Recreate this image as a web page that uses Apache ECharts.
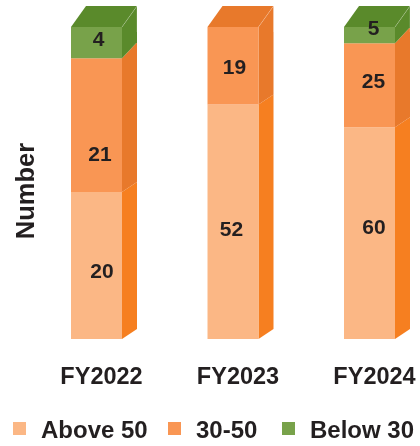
<!DOCTYPE html>
<html><head><meta charset="utf-8">
<style>html,body{margin:0;padding:0;background:#fff}#c{width:420px;height:446px}</style>
<script src="https://cdn.jsdelivr.net/npm/echarts@6/dist/echarts.min.js"></script>
</head><body><div id="c"></div>
<script>
const categories = ['FY2022','FY2023','FY2024'];
const seriesNames = ['Above 50','30-50','Below 30'];
// Printed numbers
const above50Labels = [20,52,60];
const mid3050Labels = [21,19,25];
const below30Labels = [4,null,5];
// Height share of each column (percent of the full column)
const above50Share = [47.1,75.2,67.9];
const mid3050Share = [42.9,24.8,26.9];
const below30Share = [10.0,0,5.2];

const frontColors = ['#FBB785','#F99654','#78A24A'];
const sideColors  = ['#F67F20','#E8792B','#5A8A2B'];
const topColors   = ['#F67F20','#E8792B','#5A8A2B'];
const FONT = '"Liberation Sans", Arial, sans-serif';
const INK = '#231F20';
const BAR_W = 51, DEPTH_X = 15;
// vertical lift of the back edge at each boundary: base, top of Above 50, top of 30-50, column top
const liftAtBoundary = [10, 10, 16, 21];
// fine placement of printed numbers relative to segment centre
const labelNudge = [
  [[5.5,6.5],[-1.5,9],[4.5,-5]],
  [[3.5,30],[1.5,3],[4,-3]],
  [[2,-2.5],[0,0],[4,-5.5]]
];
const legendLefts = [8,163,277];

const shares = [above50Share, mid3050Share, below30Share];
const labels = [above50Labels, mid3050Labels, below30Labels];

function makeRender(s){
  return function(params, api){
    const cat = api.value(0), lo = api.value(1), hi = api.value(2);
    if (hi - lo <= 0) return {type:'group', children:[]};
    const xc = api.coord([cat, 0])[0];
    const yLo = api.coord([cat, lo])[1], yHi = api.coord([cat, hi])[1];
    const x0 = xc - BAR_W/2, x1 = xc + BAR_W/2, x2 = x1 + DEPTH_X;
    const isTop = hi >= 99.9;
    const liftLo = liftAtBoundary[s];
    const liftHi = isTop ? liftAtBoundary[3] : liftAtBoundary[s+1];
    const ch = [];
    ch.push({type:'polygon', shape:{points:[[x1,yLo],[x2,yLo-liftLo],[x2,yHi-liftHi],[x1,yHi]]}, style:{fill:sideColors[s]}});
    ch.push({type:'rect', shape:{x:x0,y:yHi,width:BAR_W,height:yLo-yHi}, style:{fill:frontColors[s]}});
    if (isTop){
      ch.push({type:'polygon', shape:{points:[[x0,yHi],[x1,yHi],[x2,yHi-liftHi],[x0+DEPTH_X,yHi-liftHi]]}, style:{fill:topColors[s]}});
      ch.push({type:'polyline', shape:{points:[[x1,yHi],[x2,yHi-liftHi],[x2,yHi-liftHi+26]]}, style:{fill:null,stroke:'rgba(255,255,255,0.22)',lineWidth:1}});
    }
    const txt = labels[s][cat];
    if (txt != null){
      const n = labelNudge[s][cat];
      ch.push({type:'text', z2:5, style:{text:String(txt), x:xc+n[0], y:(yLo+yHi)/2+n[1], align:'center', verticalAlign:'middle',
        font:'bold 21px '+FONT, fill:INK}});
    }
    return {type:'group', children:ch};
  };
}

const series = seriesNames.map((name,s)=>({
  name, type:'custom', coordinateSystem:'cartesian2d',
  itemStyle:{color:frontColors[s]},
  renderItem:makeRender(s),
  encode:{x:0,y:[1,2]},
  clip:false, silent:true,
  data:categories.map((c,i)=>{
    let base=0; for(let k=0;k<s;k++) base+=shares[k][i];
    return [i, base, base+shares[s][i]];
  })
}));

const chart = echarts.init(document.getElementById('c'),null,{renderer:'canvas'});
chart.setOption({
  animation:false,
  backgroundColor:'#fff',
  grid:{left:28.25,top:27,width:409.5,height:312,containLabel:false,outerBoundsMode:'none'},
  xAxis:{type:'category',data:categories,axisLine:{show:false},axisTick:{show:false},
    axisLabel:{margin:27,fontFamily:FONT,fontWeight:'bold',fontSize:23.5,color:INK,padding:[0,0,0,10],interval:0,hideOverlap:false}},
  yAxis:{type:'value',min:0,max:100,show:true,axisLine:{show:false},axisTick:{show:false},axisLabel:{show:false},splitLine:{show:false},
    name:'Number',nameLocation:'middle',nameRotate:90,nameGap:-12,
    nameTextStyle:{fontFamily:FONT,fontWeight:'bold',fontSize:25.5,color:INK,padding:[0,16,0,0]}},
  legend:seriesNames.map((n,s)=>({show:true,data:[n],left:legendLefts[s],top:414,icon:'rect',itemWidth:13,itemHeight:13,
    formatter:'{a|{name}}',
    textStyle:{rich:{a:{fontFamily:FONT,fontWeight:'bold',fontSize:24,color:INK,padding:[5,0,0,10]}}}})),
  series
});
</script></body></html>
